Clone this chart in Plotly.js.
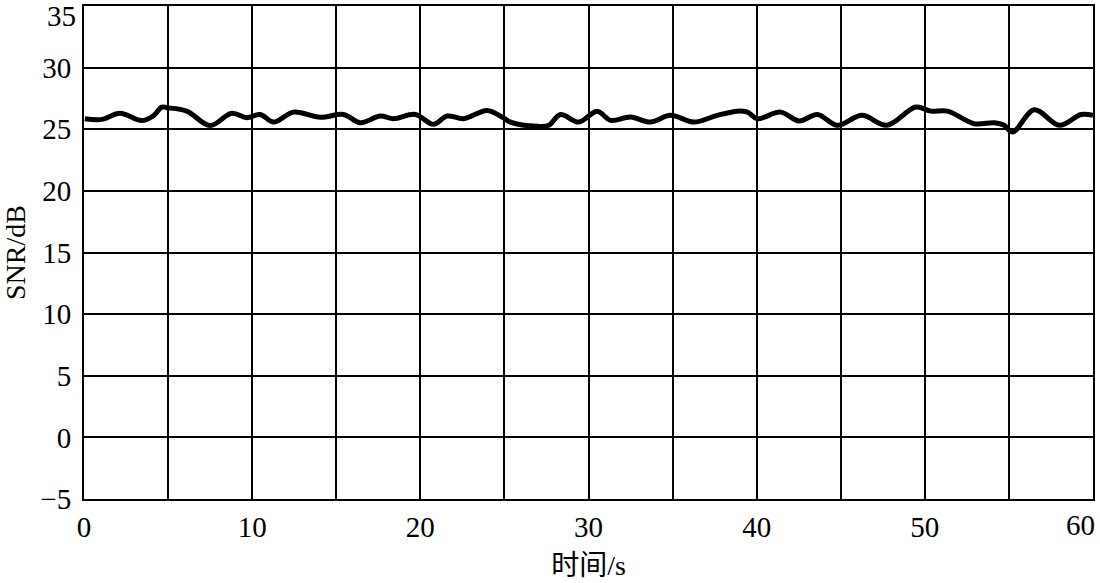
<!DOCTYPE html>
<html>
<head>
<meta charset="utf-8">
<script src="https://cdn.plot.ly/plotly-3.0.1.min.js"></script>
<style>html,body{margin:0;padding:0;background:#fff;}#chart{width:1100px;height:583px;}</style>
</head>
<body>
<div id="chart"></div>
<script>
const timeS = [0.05, 1.05, 2.14, 3.43, 4.13, 4.62, 4.92, 6.11, 7.5, 8.79, 9.68, 10.48, 11.27, 12.46, 14.05, 15.43, 16.43, 17.62, 18.41, 19.7, 20.79, 21.59, 22.58, 23.97, 24.86, 25.36, 26.95, 27.64, 28.33, 29.42, 30.52, 31.31, 32.5, 33.69, 34.88, 36.27, 37.66, 38.85, 39.45, 40.04, 41.43, 42.52, 43.61, 44.8, 46.26, 47.74, 49.46, 50.36, 51.35, 52.93, 54.13, 54.72, 55.22, 56.51, 58.0, 59.29, 60.0];
const snrDb = [25.86, 25.8, 26.3, 25.7, 26.1, 26.8, 26.75, 26.47, 25.3, 26.3, 25.94, 26.2, 25.58, 26.39, 25.97, 26.2, 25.53, 26.07, 25.86, 26.2, 25.4, 26.07, 25.86, 26.53, 26.0, 25.58, 25.24, 25.32, 26.2, 25.58, 26.47, 25.72, 25.99, 25.58, 26.13, 25.58, 26.13, 26.47, 26.39, 25.86, 26.39, 25.67, 26.2, 25.32, 26.13, 25.32, 26.8, 26.47, 26.47, 25.45, 25.53, 25.32, 24.77, 26.58, 25.32, 26.2, 26.13];
const xTickVals = [0, 5, 10, 15, 20, 25, 30, 35, 40, 45, 50, 55, 60];
const xTickText = ["0", "", "10", "", "20", "", "30", "", "40", "", "50", "", "60"];
const yTickVals = [-5, 0, 5, 10, 15, 20, 25, 30, 35];
const yTickText = ["\u22125", "0", "5", "10", "15", "20", "25", "30", "35"];
const xTitle = "时间/s";
const yTitle = "SNR/dB";

const fontFam = 'Liberation Serif, Times New Roman, Noto Sans CJK SC, serif';
const fs = 29;
const nX = xTickVals.length, nY = yTickVals.length;
// edge labels (60 and 35) are drawn inside the frame as in the reference
const xText = xTickText.map((t, i) => i === nX - 1 ? "" : t);
const yText = yTickText.map((t, i) => i === nY - 1 ? "" : t);

const trace = {
  x: timeS, y: snrDb, type: 'scatter', mode: 'lines',
  line: {color: '#000', width: 5, shape: 'spline', smoothing: 1},
  hoverinfo: 'skip'
};
const layout = {
  width: 1100, height: 583,
  margin: {l: 84, r: 7, t: 6, b: 84},
  paper_bgcolor: '#fff', plot_bgcolor: '#fff',
  showlegend: false,
  font: {family: fontFam, color: '#000', size: fs},
  xaxis: {
    range: [0, 60], tickmode: 'array', tickvals: xTickVals, ticktext: xText,
    showgrid: true, gridcolor: '#000', gridwidth: 2, zeroline: false,
    showline: true, linecolor: '#000', linewidth: 2, mirror: true, ticks: '',
    ticklabelstandoff: 1,
    tickfont: {family: fontFam, size: fs, color: '#000'},
    title: {text: xTitle, font: {family: fontFam, size: fs - 1, color: '#000'}, standoff: 14}
  },
  yaxis: {
    range: [-5, 35], tickmode: 'array', tickvals: yTickVals, ticktext: yText,
    showgrid: true, gridcolor: '#000', gridwidth: 2, zeroline: false,
    showline: true, linecolor: '#000', linewidth: 2, mirror: true, ticks: '',
    ticklabelstandoff: 5,
    tickfont: {family: fontFam, size: fs, color: '#000'},
    title: {text: yTitle, font: {family: fontFam, size: fs - 1, color: '#000'}, standoff: 14}
  },
  annotations: [
    {x: xTickVals[nX - 1], y: 0, xref: 'x', yref: 'paper', text: xTickText[nX - 1],
     xanchor: 'right', yanchor: 'top', yshift: -8, xshift: 4, showarrow: false,
     font: {family: fontFam, size: fs, color: '#000'}},
    {x: 0, y: yTickVals[nY - 1], xref: 'paper', yref: 'y', text: yTickText[nY - 1],
     xanchor: 'right', yanchor: 'top', xshift: -6, yshift: 8, showarrow: false,
     font: {family: fontFam, size: fs, color: '#000'}}
  ]
};
Plotly.newPlot('chart', [trace], layout, {staticPlot: true, displayModeBar: false});
</script>
</body>
</html>
